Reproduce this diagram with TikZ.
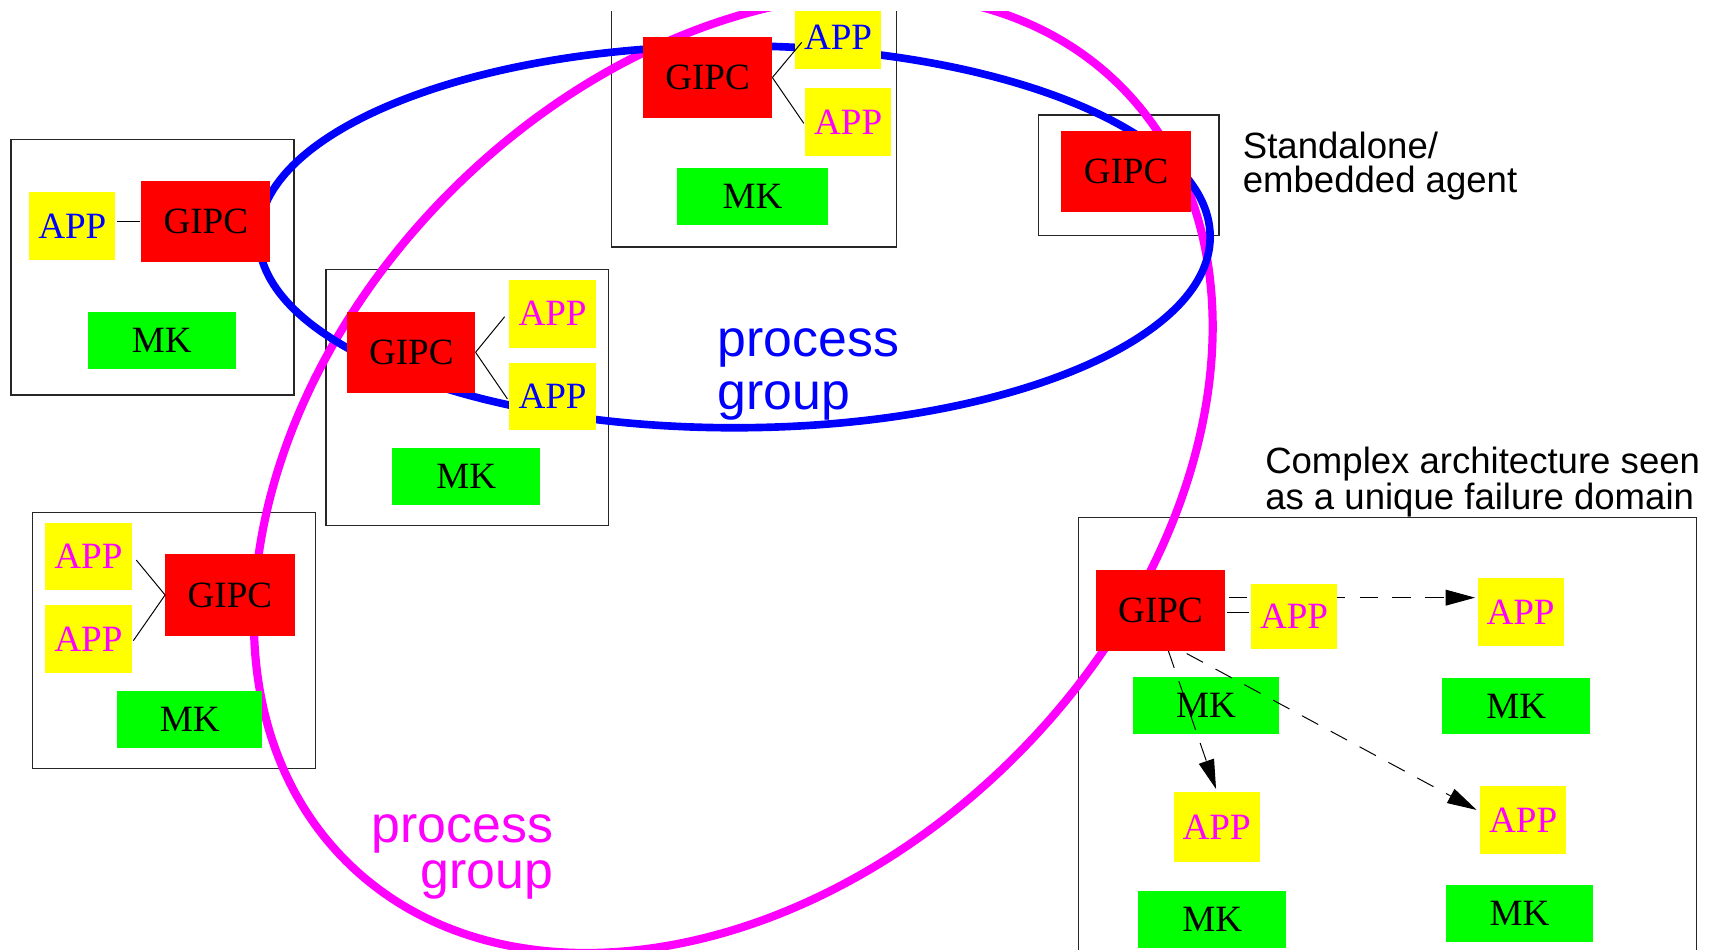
\documentclass[tikz,border=0pt]{standalone}
\usepackage{fontspec}
\setmainfont{Liberation Serif}
\newfontfamily\sansf{Liberation Sans}
\usetikzlibrary{arrows.meta}
\definecolor{fred}{RGB}{255,0,0}
\definecolor{fyellow}{RGB}{255,255,0}
\definecolor{fgreen}{RGB}{0,255,0}
\definecolor{fblue}{RGB}{0,0,255}
\definecolor{fmag}{RGB}{255,0,255}
\pgfdeclarelayer{hosts}
\pgfdeclarelayer{rings}
\pgfdeclarelayer{mks}
\pgfdeclarelayer{arrs}
\pgfsetlayers{hosts,rings,mks,arrs,main}
\newcommand\topclip{\clip (0,10.7) rectangle (1568,900);}
\begin{document}
\begin{tikzpicture}[x=1pt,y=-1pt,
  host/.style={draw=black!85, line width=1.1pt, inner sep=0pt, fill=none},
  blk/.style={inner sep=0pt, font=\fontsize{34}{34}\selectfont},
  gipc/.style={blk, fill=fred, minimum width=118.4pt, minimum height=74.4pt},
  app/.style={blk, fill=fyellow, minimum width=79pt, minimum height=62pt},
  mk/.style={blk, fill=fgreen, minimum width=135.5pt, minimum height=52pt},
  conn/.style={line width=0.9pt},
  darr/.style={line width=0.9pt, dash pattern=on 17pt off 13pt, -{Triangle[length=27pt,width=14.5pt]}},
  lbl/.style={font=\sansf\fontsize{33.5}{31.5}\selectfont, inner sep=0pt, align=left},
  pg/.style={inner sep=0pt}
]
\useasboundingbox (0,0) rectangle (1568,870);
\topclip

% host boxes
\begin{pgfonlayer}{hosts}
\topclip
\node[host, minimum width=259.4pt, minimum height=234.5pt] (hostA) at (139.7,244.75) {};
\node[host, minimum width=261.4pt, minimum height=234.5pt] (hostB) at (691,109.05) {};
\node[host, minimum width=258.9pt, minimum height=234.8pt] (hostC) at (428.25,364.5) {};
\node[host, minimum width=259.3pt, minimum height=234.6pt] (hostD) at (159.65,586.8) {};
\node[host, minimum width=165.7pt, minimum height=110.1pt] (hostE) at (1034.25,160.45) {};
\node[host, minimum width=566.5pt, minimum height=425.6pt] (hostF) at (1271.75,687.2) {};
\end{pgfonlayer}

% process groups
\begin{pgfonlayer}{rings}
\topclip
\draw[fmag, line width=7.5pt, shift={(672,434)}, rotate=45] (0,0) ellipse [x radius=502, y radius=366];
\draw[fblue, line width=7pt] (673,217) ellipse [x radius=436, y radius=175];
\end{pgfonlayer}

% MK boxes
\begin{pgfonlayer}{mks}
\topclip
\node[mk, minimum width=135.7pt] (mkA) at (148.35,311.95) {MK};
\node[mk, minimum width=137.8pt] (mkB) at (689.7,179.9) {MK};
\node[mk] (mkC) at (427.2,436.75) {MK};
\node[mk, minimum width=133.1pt] (mkD) at (173.85,659.1) {MK};
\node[mk, minimum width=133.2pt] (mkF1) at (1105.2,646.7) {MK};
\node[mk] (mkF2) at (1389.5,647) {MK};
\node[mk] (mkF3) at (1110.95,842.35) {MK};
\node[mk] (mkF4) at (1392.5,837.15) {MK};
\end{pgfonlayer}

% GIPC and APP boxes
\node[gipc] (gipcA) at (188.6,203.25) {GIPC};
\node[app, text=fblue] (appA) at (66.25,207.2) {APP};

\node[gipc] (gipcB) at (648.4,71.05) {GIPC};
\node[app, text=fblue, minimum height=58pt] (appB1) at (768.05,33.8) {APP};
\node[app, text=fmag] (appB2) at (777.3,111.7) {APP};

\node[gipc, minimum width=117.3pt, minimum height=73.9pt] (gipcC) at (376.95,322.85) {GIPC};
\node[app, text=fmag] (appC1) at (506.35,287.5) {APP};
\node[app, text=fblue] (appC2) at (506.35,363.25) {APP};

\node[gipc] (gipcD) at (210.7,545.25) {GIPC};
\node[app, text=fmag, minimum width=80pt] (appD1) at (81,509.85) {APP};
\node[app, text=fmag, minimum width=80pt] (appD2) at (81,585.6) {APP};

\node[gipc] (gipcE) at (1031.9,156.85) {GIPC};

\node[gipc] (gipcF) at (1063.5,559.5) {GIPC};
\node[app, text=fmag, minimum height=59.6pt] (appF1) at (1185.9,565) {APP};
\node[app, text=fmag] (appF2) at (1393.5,561) {APP};
\node[app, text=fmag, minimum height=64.5pt] (appF3) at (1115,757.75) {APP};
\node[app, text=fmag, minimum height=62.7pt] (appF4) at (1395.9,751.65) {APP};

% links
\draw[conn, shorten <=1.5pt, shorten >=1pt] (appA.east |- gipcA.west) -- (gipcA.west);
\draw[conn] (gipcB.east) -- ([shift={(6.4,5)}]appB1.west);
\draw[conn] (gipcB.east) -- ([shift={(-1,1.3)}]appB2.west);
\draw[conn] (gipcC.east) -- ([shift={(-4.2,2.8)}]appC1.west);
\draw[conn] (gipcC.east) -- ([shift={(-1.7,2.2)}]appC2.west);
\draw[conn] (gipcD.west) -- ([shift={(3.7,3.4)}]appD1.east);
\draw[conn] (gipcD.west) -- ([shift={(1,1.5)}]appD2.east);
\draw[conn] ([shift={(1.5,1.7)}]gipcF.east) -- ([shift={(-1.5,-3.8)}]appF1.west);

\begin{pgfonlayer}{arrs}
\topclip
\draw[darr] ([shift={(3,-11.8)}]gipcF.east) -- ([shift={(-2,-13.3)}]appF2.west);
\draw[darr] ([shift={(7,-1)}]gipcF.south) -- ([shift={(-0.6,-2.2)}]appF3.north);
\draw[darr] ([shift={(24,2)}]gipcF.south) -- ([shift={(-3,-9.4)}]appF4.west);
\end{pgfonlayer}

% labels (base anchor = baseline of the last line)
\node[lbl, anchor=base west] (standalone) at (1138.8,176.6) {Standalone/\\embedded agent};
\node[lbl, anchor=base west, font=\sansf\fontsize{33.5}{33}\selectfont] (complex) at (1159.3,467) {Complex architecture seen\\as a unique failure domain};
\node[pg, text=fblue, align=left, anchor=base west, font=\sansf\fontsize{47.5}{48.8}\selectfont] (pgblue) at (657.4,375.7) {process\\group};
\node[pg, text=fmag, align=right, anchor=base east, font=\sansf\fontsize{47.5}{41.5}\selectfont] (pgmag) at (507,814) {process\\group};
\end{tikzpicture}
\end{document}
